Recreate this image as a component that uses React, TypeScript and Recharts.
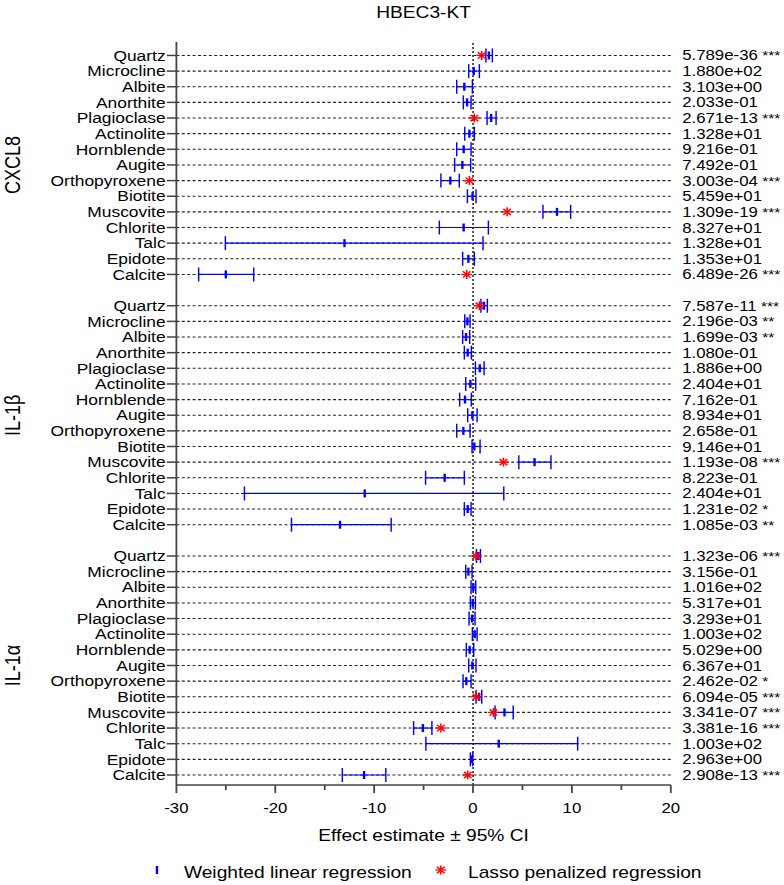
import React from 'react';
import { ScatterChart, Scatter, XAxis, YAxis, CartesianGrid, ErrorBar, ReferenceLine } from 'recharts';

const minerals = ['Quartz', 'Microcline', 'Albite', 'Anorthite', 'Plagioclase', 'Actinolite', 'Hornblende', 'Augite', 'Orthopyroxene', 'Biotite', 'Muscovite', 'Chlorite', 'Talc', 'Epidote', 'Calcite'];
const panels = ['CXCL8', 'IL-1β', 'IL-1α'];
const xTicks = [-30, -25, -20, -15, -10, -5, 0, 5, 10, 15, 20];

// CXCL8
const cxcl8Est = [1.6, 0.07, -0.88, -0.6, 1.83, -0.37, -0.95, -1.08, -2.3, -0.05, 8.49, -0.95, -13.0, -0.47, -25.0];
const cxcl8Low = [1.3, -0.44, -1.65, -0.98, 1.42, -0.84, -1.65, -1.86, -3.25, -0.57, 7.07, -3.41, -25.05, -1.05, -27.75];
const cxcl8High = [1.95, 0.64, -0.07, -0.2, 2.33, 0.13, -0.2, -0.24, -1.39, 0.3, 9.87, 1.55, 1.01, 0.13, -22.18];
const cxcl8Lasso = [0.88, null, null, null, 0.13, null, null, null, -0.37, null, 3.45, null, null, null, -0.64];
const cxcl8P = ['5.789e-36', '1.880e+02', '3.103e+00', '2.033e-01', '2.671e-13', '1.328e+01', '9.216e-01', '7.492e-01', '3.003e-04', '5.459e+01', '1.309e-19', '8.327e+01', '1.328e+01', '1.353e+01', '6.489e-26'];
const cxcl8Stars = ['***', '', '', '', '***', '', '', '', '***', '', '***', '', '', '', '***'];

// IL-1β
const il1bEst = [1.1, -0.57, -0.71, -0.54, 0.68, -0.27, -0.81, -0.07, -0.98, 0.13, 6.22, -2.87, -10.95, -0.54, -13.45];
const il1bLow = [0.8, -0.84, -1.05, -0.88, 0.24, -0.74, -1.35, -0.54, -1.65, -0.1, 4.63, -4.8, -23.12, -0.88, -18.36];
const il1bHigh = [1.45, -0.3, -0.34, -0.17, 1.12, 0.27, -0.17, 0.41, -0.3, 0.71, 7.88, -0.88, 3.11, -0.2, -8.28];
const il1bLasso = [0.64, null, null, null, null, null, null, null, null, null, 3.08, null, null, null, null];
const il1bP = ['7.587e-11', '2.196e-03', '1.699e-03', '1.080e-01', '1.886e+00', '2.404e+01', '7.162e-01', '8.934e+01', '2.658e-01', '9.146e+01', '1.193e-08', '8.223e-01', '2.404e+01', '1.231e-02', '1.085e-03'];
const il1bStars = ['***', '**', '**', '', '', '', '', '', '', '', '***', '', '', '*', '**'];

// IL-1α
const il1aEst = [0.54, -0.47, 0.03, -0.03, -0.1, 0.17, -0.34, -0.07, -0.68, 0.61, 3.18, -5.07, 2.6, -0.17, -11.02];
const il1aLow = [0.35, -0.74, -0.2, -0.27, -0.4, -0.07, -0.68, -0.44, -1.01, 0.3, 2.23, -6.01, -4.77, -0.27, -13.22];
const il1aHigh = [0.75, -0.1, 0.27, 0.24, 0.2, 0.41, 0.07, 0.3, -0.2, 0.88, 4.06, -4.16, 10.58, -0.03, -8.82];
const il1aLasso = [0.3, null, null, null, null, null, null, null, null, 0.34, 2.06, -3.25, null, null, -0.54];
const il1aP = ['1.323e-06', '3.156e-01', '1.016e+02', '5.317e+01', '3.293e+01', '1.003e+02', '5.029e+00', '6.367e+01', '2.462e-02', '6.094e-05', '3.341e-07', '3.381e-16', '1.003e+02', '2.963e+00', '2.908e-13'];
const il1aStars = ['***', '', '', '', '', '', '', '', '*', '***', '***', '***', '', '', '***'];

const panelEst = [cxcl8Est, il1bEst, il1aEst];
const panelLow = [cxcl8Low, il1bLow, il1aLow];
const panelHigh = [cxcl8High, il1bHigh, il1aHigh];
const panelLasso = [cxcl8Lasso, il1bLasso, il1aLasso];
const panelP = [cxcl8P, il1bP, il1aP];
const panelStars = [cxcl8Stars, il1bStars, il1aStars];

const ROWS_PER_PANEL = 16;
const wlrData: any[] = [];
const lassoData: any[] = [];
const yTicks: number[] = [];
panels.forEach((_, p) => {
  minerals.forEach((_, i) => {
    const row = p * ROWS_PER_PANEL + i;
    yTicks.push(row);
    const est = panelEst[p][i];
    wlrData.push({ x: est, y: row, err: [est - panelLow[p][i], panelHigh[p][i] - est] });
    const l = panelLasso[p][i];
    if (l !== null) lassoData.push({ x: l, y: row });
  });
});

const FONT = '"Liberation Sans", Arial, sans-serif';
const W = 653;
const H = 885;
const STRETCH = 1.2;
const AXIS = '#444';
const BLUE = '#0000ff';
const RED = '#ff0000';

const LeftTick = (props: any) => {
  const { x, y, payload } = props;
  const i = payload.value % ROWS_PER_PANEL;
  return (
    <text x={x} y={y} dy="0.36em" textAnchor="end" fontSize={14.5} fontFamily={FONT} fill="#000">
      {minerals[i]}
    </text>
  );
};

const RightTick = (props: any) => {
  const { x, y, payload } = props;
  const p = Math.floor(payload.value / ROWS_PER_PANEL);
  const i = payload.value % ROWS_PER_PANEL;
  const s = panelStars[p][i];
  return (
    <text x={x} y={y} dy="0.36em" textAnchor="start" fontSize={14} fontFamily={FONT} fill="#000">
      {panelP[p][i]}
      {s ? <tspan fontSize={13}>{' ' + s}</tspan> : null}
    </text>
  );
};

const XTick = (props: any) => {
  const { x, y, payload } = props;
  const v = payload.value;
  const major = v % 10 === 0;
  const y0 = y - 8;
  return (
    <g>
      <line x1={x} x2={x} y1={y0} y2={y0 + (major ? 8 : 5)} stroke={AXIS} strokeWidth={1.5} />
      {major && (
        <text x={x} y={y0 + 28} textAnchor="middle" fontSize={14} fontFamily={FONT} fill="#000">
          {v}
        </text>
      )}
    </g>
  );
};

const CenterMark = (props: any) => {
  const { cx, cy } = props;
  return <rect x={cx - 1} y={cy - 4} width={2} height={8} fill={BLUE} />;
};

const Asterisk = (props: any) => {
  const { cx, cy } = props;
  const r = 4.5;
  const d = r * 0.707;
  return (
    <g stroke={RED} strokeWidth={1.3}>
      <line x1={cx} y1={cy - r} x2={cx} y2={cy + r} />
      <line x1={cx - r} y1={cy} x2={cx + r} y2={cy} />
      <line x1={cx - d} y1={cy - d} x2={cx + d} y2={cy + d} />
      <line x1={cx - d} y1={cy + d} x2={cx + d} y2={cy - d} />
    </g>
  );
};

export default function App() {
  const rowY = (r: number) => 42 + ((r + 0.86) / 47.5) * 743;
  return (
    <div style={{ position: 'absolute', left: 0, top: 0, width: 784, height: 885, overflow: 'hidden', background: '#fff' }}>
      <div style={{ position: 'absolute', left: 0, top: 0, width: W, height: H, transform: `scaleX(${STRETCH})`, transformOrigin: '0 0' }}>
        <ScatterChart width={W} height={H} margin={{ top: 42, right: 0, bottom: 40, left: 7 }}>
          <CartesianGrid yAxisId="l" vertical={false} syncWithTicks stroke="#222" strokeWidth={1.1} strokeDasharray="2.5 2" />
          <XAxis
            type="number"
            dataKey="x"
            domain={[-30, 20]}
            ticks={xTicks}
            interval={0}
            allowDataOverflow
            height={60}
            tickSize={8}
            tickMargin={0}
            tickLine={false}
            tick={<XTick />}
            axisLine={{ stroke: AXIS, strokeWidth: 1.5 }}
          />
          <YAxis
            yAxisId="l"
            type="number"
            dataKey="y"
            domain={[-0.86, 46.64]}
            reversed
            allowDataOverflow
            ticks={yTicks}
            interval={0}
            width={140}
            tickSize={8}
            tickMargin={1}
            tick={<LeftTick />}
            tickLine={{ stroke: AXIS, strokeWidth: 1.5 }}
            axisLine={{ stroke: AXIS, strokeWidth: 1.5 }}
          />
          <YAxis
            yAxisId="r"
            orientation="right"
            type="number"
            domain={[-0.86, 46.64]}
            reversed
            allowDataOverflow
            ticks={yTicks}
            interval={0}
            width={94}
            tickSize={0}
            tickMargin={9.5}
            tick={<RightTick />}
            tickLine={false}
            axisLine={false}
          />
          <ReferenceLine yAxisId="l" x={0} stroke={AXIS} strokeWidth={1.5} strokeDasharray="2 2" />
          <Scatter yAxisId="l" data={wlrData} isAnimationActive={false} shape={(p: any) => <CenterMark {...p} />}>
            <ErrorBar dataKey="err" direction="x" width={7} stroke={BLUE} strokeWidth={1.2} isAnimationActive={false} />
          </Scatter>
          <Scatter yAxisId="l" data={lassoData} isAnimationActive={false} shape={(p: any) => <Asterisk {...p} />} />
        </ScatterChart>
        <svg width={W} height={H} style={{ position: 'absolute', left: 0, top: 0, pointerEvents: 'none' }}>
          <text x={353} y={18} textAnchor="middle" fontSize={16} fontFamily={FONT} fill="#000">HBEC3-KT</text>
          {panels.map((name, p) => (
            <text
              key={name}
              transform={`translate(17, ${rowY(p * ROWS_PER_PANEL + 7)}) rotate(-90)`}
              textAnchor="middle"
              fontSize={18}
              fontFamily={FONT}
              fill="#000"
            >
              {name}
            </text>
          ))}
          <text x={353} y={841} textAnchor="middle" fontSize={16} fontFamily={FONT} fill="#000">Effect estimate ± 95% CI</text>
          <rect x={129.8} y={866} width={2} height={8} fill={BLUE} />
          <text x={153.3} y={878} fontSize={16} fontFamily={FONT} fill="#000">Weighted linear regression</text>
          <Asterisk cx={367.3} cy={870} />
          <text x={390} y={878} fontSize={16} fontFamily={FONT} fill="#000">Lasso penalized regression</text>
        </svg>
      </div>
    </div>
  );
}
